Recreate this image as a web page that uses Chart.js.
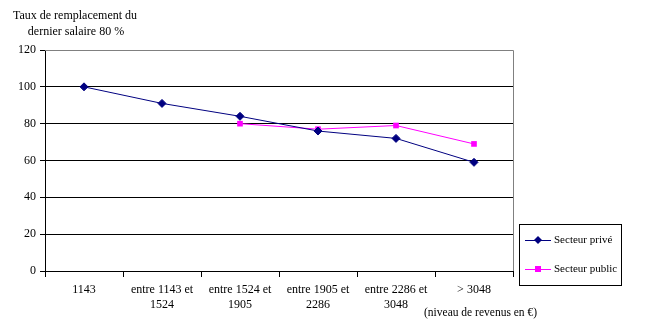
<!DOCTYPE html>
<html>
<head>
<meta charset="utf-8">
<script src="https://cdn.jsdelivr.net/npm/chart.js@4/dist/chart.umd.min.js"></script>
<style>
  html, body { margin: 0; padding: 0; background: #fff; }
  #wrap { width: 669px; height: 332px; position: relative; }
</style>
</head>
<body>
<div id="wrap"><canvas id="myChart"></canvas></div>
<script>
// tranches de revenus
var labels = [
    ['1143'],
    ['entre 1143 et', '1524'],
    ['entre 1524 et', '1905'],
    ['entre 1905 et', '2286'],
    ['entre 2286 et', '3048'],
    ['> 3048']
];
var prive = [100, 91, 84, 76, 72, 59];
var public_ = [null, null, 80, 77, 79, 69];
var yTicks = [0, 20, 40, 60, 80, 100, 120];

var serif = '"Liberation Serif", "Times New Roman", serif';

// titre, note d'axe, bordure et légende
var extras = {
    id: 'extras',
    afterDraw: function (chart) {
        var c = chart.ctx, a = chart.chartArea;
        c.save();
        // bordure grise haut / droite
        c.strokeStyle = '#808080';
        c.lineWidth = 1;
        c.beginPath();
        c.moveTo(a.left, a.top + 0.5);
        c.lineTo(a.right + 0.5, a.top + 0.5);
        c.lineTo(a.right + 0.5, a.bottom);
        c.stroke();

        c.fillStyle = '#000';
        c.font = '12px ' + serif;
        c.textAlign = 'center';
        c.textBaseline = 'middle';
        c.fillText('Taux de remplacement du', 75, 16);
        c.fillText('dernier salaire 80 %', 76, 32);
        c.textAlign = 'left';
        c.font = '11.5px ' + serif;
        c.fillText('(niveau de revenus en \u20AC)', 424, 313);

        // légende
        var lx = 519, ly = 224, lw = 102, lh = 61;
        c.strokeStyle = '#000';
        c.strokeRect(lx + 0.5, ly + 0.5, lw, lh);
        c.font = '11px ' + serif;
        chart.data.datasets.forEach(function (ds, i) {
            var y = ly + 16 + i * 29;
            c.strokeStyle = ds.borderColor;
            c.lineWidth = 1;
            c.beginPath();
            c.moveTo(lx + 6, y + 0.5);
            c.lineTo(lx + 32, y + 0.5);
            c.stroke();
            c.fillStyle = ds.backgroundColor;
            c.beginPath();
            if (ds.pointStyle === 'rect') {
                c.rect(lx + 16, y - 3, 6, 6);
            } else {
                c.moveTo(lx + 19, y - 4);
                c.lineTo(lx + 23, y);
                c.lineTo(lx + 19, y + 4);
                c.lineTo(lx + 15, y);
                c.closePath();
            }
            c.fill();
            c.fillStyle = '#000';
            c.textAlign = 'left';
            c.fillText(ds.label, lx + 35, y);
        });
        c.restore();
    }
};

var ctx = document.getElementById('myChart').getContext('2d');

var myChart = new Chart(ctx, {
    type: 'line',
    data: {
        labels: labels,
        datasets: [
            {
                label: 'Secteur privé',
                data: prive,
                borderColor: '#000080',
                backgroundColor: '#000080',
                borderWidth: 1,
                pointStyle: 'rectRot',
                pointRadius: 4,
                pointBorderWidth: 1,
                tension: 0
            },
            {
                label: 'Secteur public',
                data: public_,
                borderColor: '#FF00FF',
                backgroundColor: '#FF00FF',
                borderWidth: 1,
                pointStyle: 'rect',
                pointRadius: 4,
                pointBorderWidth: 0,
                tension: 0
            }
        ]
    },
    options: {
        responsive: true,
        maintainAspectRatio: false,
        animation: false,
        layout: { padding: { left: 0, top: 50, right: 156, bottom: 0 } },
        plugins: {
            legend: { display: false },
            tooltip: { enabled: false }
        },
        scales: {
            x: {
                offset: true,
                grid: {
                    offset: true,
                    drawOnChartArea: false,
                    color: '#000',
                    tickLength: 6,
                    tickColor: '#000'
                },
                border: { color: '#000' },
                ticks: {
                    color: '#000',
                    font: { family: serif, size: 12 },
                    maxRotation: 0,
                    autoSkip: false,
                    padding: 6
                },
                afterFit: function (s) { s.height = 61; }
            },
            y: {
                min: 0,
                max: 120,
                afterBuildTicks: function (s) {
                    s.ticks = yTicks.map(function (v) { return { value: v }; });
                },
                grid: {
                    color: function (c) { return c.tick && c.tick.value === 120 ? '#808080' : '#000'; },
                    tickColor: '#000',
                    tickLength: 5
                },
                border: { color: '#000' },
                ticks: {
                    color: '#000',
                    font: { family: serif, size: 12 },
                    padding: 4
                },
                afterFit: function (s) { s.width = 45; }
            }
        }
    },
    plugins: [extras]
});
</script>
</body>
</html>
